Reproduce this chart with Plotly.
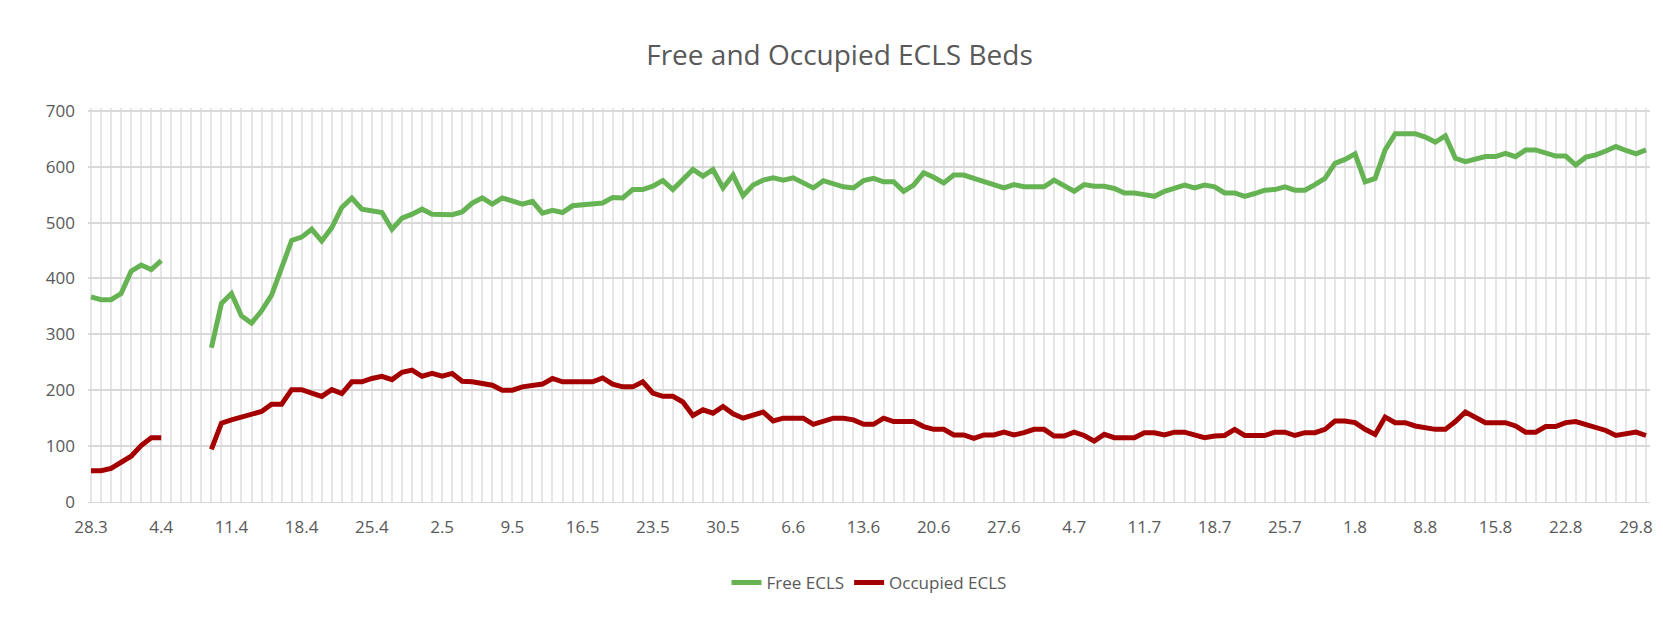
import pandas as pd
import plotly.graph_objects as go

# daily categories 28.3 .. 30.8
dates = pd.date_range("2020-03-28", "2020-08-30", freq="D")
labels = [f"{d.day}.{d.month}" for d in dates]
tick_idx = list(range(0, len(labels), 7))
tick_text = ["28.3", "4.4", "11.4", "18.4", "25.4", "2.5", "9.5", "16.5", "23.5", "30.5", "6.6", "13.6",
             "20.6", "27.6", "4.7", "11.7", "18.7", "25.7", "1.8", "8.8", "15.8", "22.8", "29.8"]

free_ecls = (
    [367, 362, 362, 373, 413, 424, 416, 432]
    + [None, None, None, None]
    + [276, 355, 373, 333, 320, 342, 370, 418, 468, 474,
       488, 467, 491, 527, 544, 524, 522, 518, 488, 508,
       515, 524, 515, 514, 514, 519, 535, 544, 533, 544,
       539, 533, 538, 517, 522, 518, 530]
    + [532, 533, 535, 545, 544, 559, 559, 565, 575, 559,
       577, 595, 583, 595, 562, 585, 548, 567, 576, 580,
       576, 580, 571, 562, 575, 570, 564, 562, 575, 579,
       573, 573, 556, 567, 589, 581, 571, 585, 585, 579,
       573, 568, 562, 568, 564, 564, 564, 576]
    + [565, 556, 568, 565, 565, 561, 553, 553, 550, 547,
       556, 562, 567, 562, 567, 564, 553, 553, 547, 552,
       558, 559, 564, 558, 558, 568, 579, 606, 613, 623,
       573, 579, 630, 659, 659, 659, 653, 644, 655, 615,
       609, 613, 618, 618, 624, 618, 630, 630, 624, 619]
    + [619, 603, 617, 621, 628, 636, 629, 623, 630]
)

occupied_ecls = (
    [56, 56, 60, 70, 82, 101, 115, 115]
    + [None, None, None, None]
    + [94, 141, 147, 152, 158, 162, 175, 175, 201, 201,
       195, 189, 201, 194, 215, 215, 221, 225, 219, 232,
       236, 225, 230, 225, 230, 216, 215, 211, 209, 200,
       200, 206, 209, 211, 221, 215, 215]
    + [215, 215, 222, 211, 206, 206, 215, 195, 189, 189,
       179, 155, 165, 159, 171, 158, 150, 155, 161, 145,
       150, 150, 150, 139, 144, 150, 150, 147, 139, 139,
       150, 144, 144, 144, 135, 130, 130, 120, 120, 114,
       120, 120, 125, 120, 124, 130, 130, 118]
    + [118, 125, 119, 109, 121, 115, 115, 115, 124, 124,
       120, 125, 125, 120, 115, 118, 119, 130, 119, 119,
       119, 125, 125, 119, 124, 124, 130, 145, 145, 142,
       130, 121, 152, 142, 142, 136, 132, 130, 130, 144,
       161, 152, 142, 142, 142, 136, 125, 125, 135, 135]
    + [142, 144, 139, 135, 128, 119, 121, 125, 119]
)

x = list(range(len(free_ecls)))

fig = go.Figure()
fig.add_trace(go.Scatter(x=x, y=free_ecls, mode="lines", name="Free ECLS",
                         line=dict(color="#66b354", width=5), connectgaps=False))
fig.add_trace(go.Scatter(x=x, y=occupied_ecls, mode="lines", name="Occupied ECLS",
                         line=dict(color="#a50000", width=5), connectgaps=False))

grey = "#595959"
fig.update_layout(
    width=1663, height=622,
    paper_bgcolor="white", plot_bgcolor="white",
    margin=dict(l=80, r=21, t=100, b=128),
    font=dict(family="Open Sans, Liberation Sans, sans-serif", color=grey, size=17),
    title=dict(text="Free and Occupied ECLS Beds", x=0.5, xanchor="center", y=0.94,
               font=dict(size=28, color=grey)),
    showlegend=True,
    legend=dict(orientation="h", x=0.5, xanchor="center", y=-0.16, yanchor="top",
                font=dict(size=17, color=grey)),
    xaxis=dict(range=[-0.3, len(x) - 0.6], tickmode="array", tickvals=tick_idx, ticktext=tick_text,
               showgrid=True, gridcolor="#e6e6e6", gridwidth=1.5,
               minor=dict(dtick=1, tick0=0, showgrid=True, gridcolor="#e6e6e6", gridwidth=1.5),
               showline=True, linecolor="#d9d9d9", ticks="", zeroline=False, ticklabelstandoff=10),
    yaxis=dict(range=[0, 705], tickvals=[0, 100, 200, 300, 400, 500, 600, 700],
               showgrid=True, gridcolor="#d9d9d9", gridwidth=1.5, zeroline=False,
               ticks="", ticklabelstandoff=12),
)

fig.write_html("out.html")
